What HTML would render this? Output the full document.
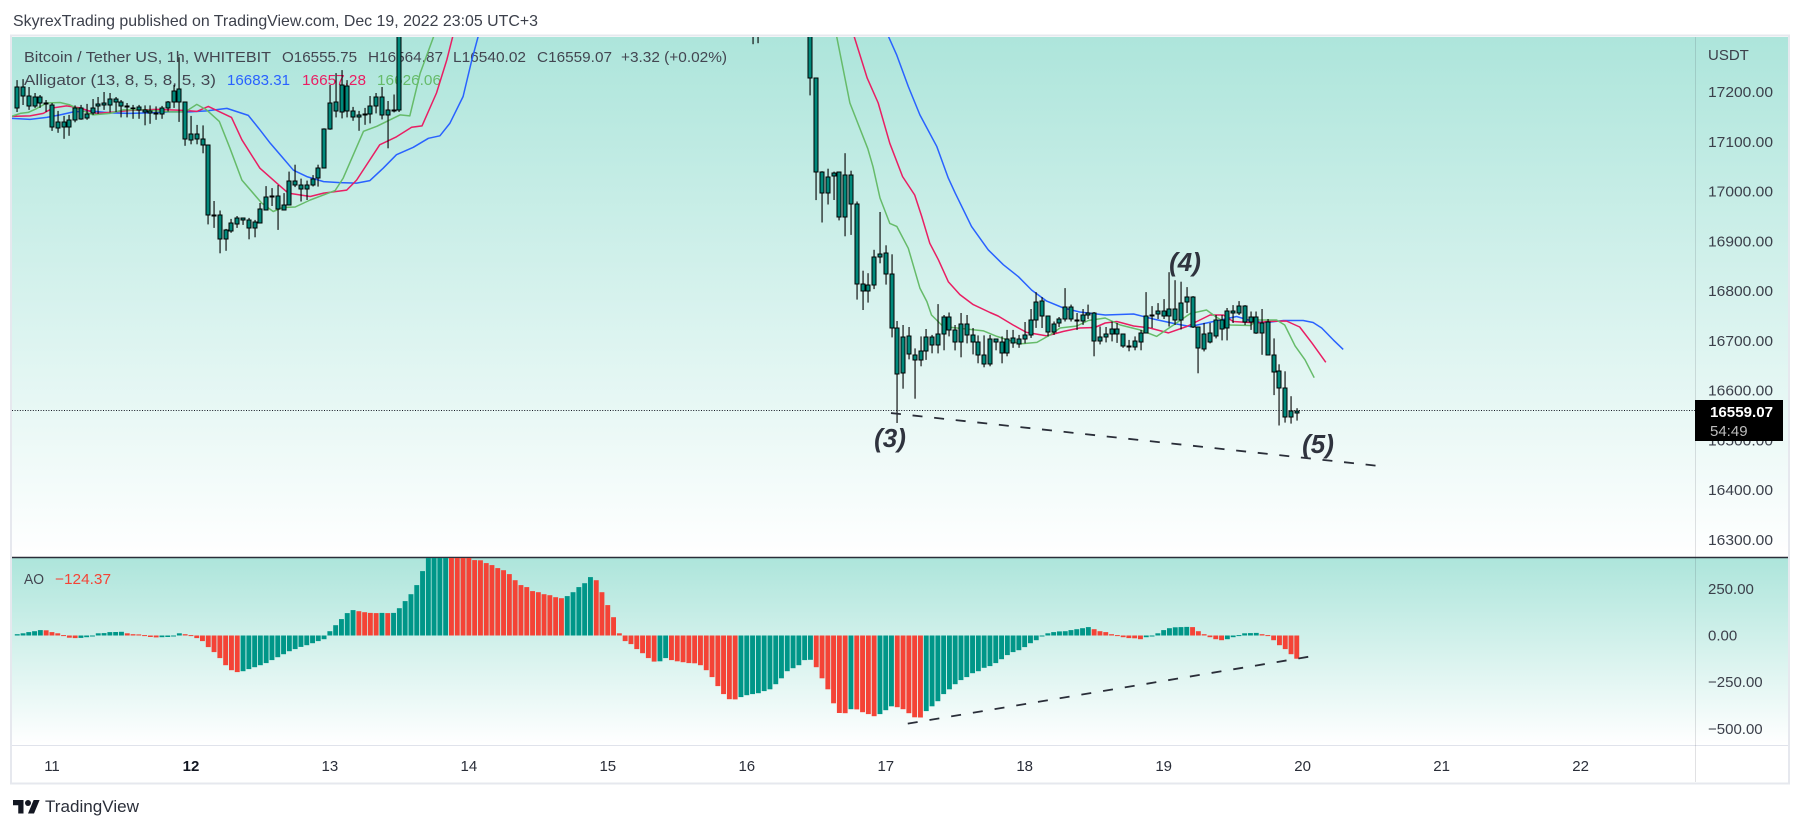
<!DOCTYPE html>
<html>
<head>
<meta charset="utf-8">
<title>BTC/USDT 1h chart</title>
<style>
html,body{margin:0;padding:0;background:#fff;width:1802px;height:830px;overflow:hidden}
svg{display:block;font-family:"Liberation Sans",sans-serif}
</style>
</head>
<body>
<svg id="chart" xmlns="http://www.w3.org/2000/svg" width="1802" height="830" viewBox="0 0 1802 830">
<defs>
<linearGradient id="paneGrad" x1="0" y1="0" x2="0" y2="1"><stop offset="0" stop-color="#ade5db"/><stop offset="1" stop-color="#ffffff"/></linearGradient>
<clipPath id="priceClip"><rect x="12" y="37" width="1683" height="520"/></clipPath>
<clipPath id="aoClip"><rect x="12" y="558" width="1683" height="187"/></clipPath>
</defs>
<text x="13" y="26" font-size="16" fill="#3c404b" textLength="525" lengthAdjust="spacingAndGlyphs">SkyrexTrading published on TradingView.com, Dec 19, 2022 23:05 UTC+3</text>
<rect x="11" y="35.5" width="1778" height="748" fill="#fff" stroke="#e6e8ee" stroke-width="2"/>
<rect x="12" y="37" width="1776" height="520" fill="url(#paneGrad)"/>
<rect x="12" y="558" width="1776" height="187" fill="url(#paneGrad)"/>
<line x1="12" y1="557.5" x2="1788" y2="557.5" stroke="#2a2e39" stroke-width="1.5"/>
<line x1="12" y1="745.5" x2="1788" y2="745.5" stroke="#e0e3eb" stroke-width="1"/>
<line x1="1695.5" y1="37" x2="1695.5" y2="782" stroke="#2a2e39" stroke-opacity="0.14" stroke-width="1"/>
<g id="legend" font-size="15" fill="#434651">
<text x="24" y="62" textLength="247" lengthAdjust="spacingAndGlyphs">Bitcoin / Tether US, 1h, WHITEBIT</text>
<text x="282" y="62" textLength="75" lengthAdjust="spacingAndGlyphs">O16555.75</text>
<text x="368" y="62" textLength="75" lengthAdjust="spacingAndGlyphs">H16564.87</text>
<text x="453" y="62" textLength="73" lengthAdjust="spacingAndGlyphs">L16540.02</text>
<text x="537" y="62" textLength="75" lengthAdjust="spacingAndGlyphs">C16559.07</text>
<text x="621" y="62" textLength="106" lengthAdjust="spacingAndGlyphs">+3.32 (+0.02%)</text>
<text x="24" y="85" textLength="192" lengthAdjust="spacingAndGlyphs">Alligator (13, 8, 5, 8, 5, 3)</text>
<text x="227" y="85" fill="#2962ff" textLength="63" lengthAdjust="spacingAndGlyphs">16683.31</text>
<text x="302" y="85" fill="#e91e63" textLength="64" lengthAdjust="spacingAndGlyphs">16657.28</text>
<text x="377" y="85" fill="#66bb6a" textLength="64" lengthAdjust="spacingAndGlyphs">16626.06</text>
<text x="24" y="584" textLength="20" lengthAdjust="spacingAndGlyphs">AO</text>
<text x="55" y="584" fill="#f44336" textLength="56" lengthAdjust="spacingAndGlyphs">−124.37</text>
</g>
<g id="priceMarks" clip-path="url(#priceClip)"></g>
<g id="aoMarks" clip-path="url(#aoClip)"></g>
<g id="axisLabels" font-size="15" fill="#3c404b"></g>
<g font-size="26" font-weight="bold" font-style="italic" fill="#2f333e" text-anchor="middle">
<text x="890" y="447">(3)</text>
<text x="1185" y="271">(4)</text>
<text x="1318" y="453">(5)</text>
</g>
<g>
<g transform="translate(13,797) scale(0.75)" fill="#131722">
<path d="M14 22H7V11H0V4h14v18zM28 22h-8l7.5-18h8L28 22z"/>
<circle cx="20" cy="8" r="4"/>
</g>
<text x="45" y="812" font-size="16.5" fill="#2a2e39" textLength="94" lengthAdjust="spacingAndGlyphs">TradingView</text>
</g>
</svg>
<script>
var firstHour = -6;
var opens = [
17168,17211,17191,17171,17189,17177,17173,17127,17139,17129,
17143,17168,17147,17157,17171,17174,17174,17186,17180,17171,
17168,17170,17163,17161,17157,17155,17168,17180,17206,17180,
17103,17115,17105,17093,16953,16953,16904,16921,16935,16947,
16942,16926,16937,16963,16989,16991,16963,16973,17021,17013,
17005,17013,17027,17047,17125,17161,17159,17212,17161,17153,
17153,17155,17171,17189,17153,17161,17164,17480,17560,17640,
17690,17720,17760,17790,17820,17850,17880,17860,17890,17920,
17950,17980,18010,18040,18060,18020,17990,17960,17930,17900,
17880,17860,17840,17820,17800,17780,17770,17790,17810,17830,
17850,17820,17790,17760,17730,17700,17680,17660,17640,17620,
17600,17590,17580,17560,17540,17520,17510,17500,17480,17470,
17450,17440,17420,17410,17400,17390,17380,17370,17360,17370,
17410,17430,17440,17450,17470,17490,17520,17560,17228,17040,
16997,17032,17039,16949,17033,16975,16814,16800,16812,16868,
16876,16834,16726,16635,16709,16671,16661,16679,16707,16691,
16714,16748,16722,16698,16734,16712,16698,16671,16653,16704,
16698,16676,16706,16694,16704,16712,16742,16780,16750,16718,
16736,16744,16768,16742,16740,16752,16756,16700,16707,16714,
16724,16714,16690,16688,16698,16716,16750,16754,16760,16750,
16764,16742,16778,16788,16728,16683,16698,16710,16742,16726,
16760,16756,16770,16738,16748,16716,16738,16671,16639,16605,
16547,16555.75];
var highs = [
17224,17226,17210,17198,17194,17184,17178,17162,17152,17154,
17173,17174,17176,17186,17190,17200,17198,17190,17184,17178,
17174,17174,17173,17173,17171,17172,17182,17214,17270,17181,
17152,17134,17133,17094,16981,16962,16925,16945,16951,16947,
16947,16943,16977,17011,17007,17013,16997,17040,17054,17026,
17022,17033,17054,17127,17214,17238,17244,17224,17170,17162,
17168,17192,17198,17210,17182,17195,17500,17590,17670,17720,
17750,17790,17820,17850,17880,17910,17910,17920,17950,17980,
18010,18040,18070,18090,18090,18050,18020,17990,17960,17930,
17910,17890,17870,17850,17830,17810,17820,17840,17860,17880,
17880,17850,17820,17790,17760,17730,17710,17690,17670,17650,
17630,17620,17610,17590,17570,17550,17540,17530,17510,17500,
17480,17470,17450,17440,17430,17420,17410,17385,17390,17440,
17460,17470,17480,17500,17520,17550,17590,17580,17228,17041,
17046,17040,17040,17077,17042,16980,16841,16836,16883,16959,
16892,16874,16740,16732,16728,16685,16709,16724,16712,16774,
16752,16757,16732,16756,16752,16726,16711,16711,16712,16704,
16709,16722,16722,16712,16738,16764,16798,16788,16750,16739,
16748,16806,16773,16756,16764,16773,16758,16729,16728,16739,
16736,16714,16702,16709,16722,16798,16770,16776,16784,16838,
16822,16819,16808,16790,16729,16736,16736,16752,16752,16766,
16772,16780,16772,16759,16759,16764,16744,16705,16653,16639,
16589,16564.87];
var lows = [
17160,17174,17164,17168,17168,17160,17122,17118,17106,17112,
17139,17144,17144,17154,17156,17164,17159,17160,17149,17149,
17146,17146,17133,17136,17144,17146,17161,17168,17140,17092,
17095,17095,17077,16934,16927,16876,16881,16917,16927,16933,
16904,16908,16937,16962,16971,16923,16963,16973,17009,16980,
16983,17010,17010,17047,17124,17149,17147,17149,17142,17122,
17134,17137,17157,17145,17087,17159,17160,17450,17530,17610,
17660,17690,17730,17760,17790,17820,17830,17830,17860,17890,
17920,17950,17980,18010,17990,17960,17930,17900,17870,17850,
17830,17810,17790,17770,17750,17740,17740,17760,17780,17800,
17790,17760,17730,17700,17670,17650,17630,17610,17590,17570,
17560,17550,17530,17510,17490,17480,17470,17450,17440,17420,
17410,17390,17380,17370,17360,17350,17340,17296,17298,17340,
17380,17400,17410,17420,17440,17460,17490,17193,16983,16938,
16974,16983,16942,16910,16913,16783,16762,16777,16804,16856,
16813,16707,16535,16604,16663,16584,16649,16662,16675,16675,
16681,16709,16681,16667,16695,16673,16655,16647,16649,16681,
16655,16669,16686,16686,16695,16706,16726,16726,16709,16712,
16728,16739,16739,16722,16732,16744,16669,16693,16697,16699,
16696,16686,16679,16681,16681,16716,16726,16744,16744,16729,
16732,16723,16756,16726,16635,16679,16695,16705,16701,16701,
16736,16752,16732,16722,16714,16672,16671,16591,16530,16536,
16534,16540.02];
var closes = [
17211,17192,17171,17189,17178,17175,17129,17139,17129,17143,
17168,17145,17155,17168,17176,17178,17186,17179,17171,17170,
17167,17163,17159,17157,17156,17168,17180,17203,17180,17105,
17115,17105,17093,16953,16951,16904,16922,16937,16947,16943,
16926,16939,16965,16989,16991,16965,16972,17021,17013,17005,
17013,17025,17047,17125,17177,17180,17214,17161,17149,17149,
17155,17171,17189,17153,17164,17164,17480,17560,17640,17690,
17720,17760,17790,17820,17850,17880,17860,17890,17920,17950,
17980,18010,18040,18060,18020,17990,17960,17930,17900,17880,
17860,17840,17820,17800,17780,17770,17790,17810,17830,17850,
17820,17790,17760,17730,17700,17680,17660,17640,17620,17600,
17590,17580,17560,17540,17520,17510,17500,17480,17470,17450,
17440,17420,17410,17400,17390,17380,17370,17360,17370,17410,
17430,17440,17450,17470,17490,17520,17560,17228,17039,16997,
17029,17037,16949,17033,16975,16814,16800,16812,16868,16874,
16834,16726,16633,16707,16673,16661,16679,16707,16691,16713,
16748,16722,16698,16734,16712,16698,16671,16653,16704,16698,
16676,16704,16696,16704,16712,16742,16778,16750,16718,16734,
16744,16768,16744,16740,16752,16756,16700,16707,16714,16724,
16714,16690,16688,16700,16716,16750,16752,16760,16750,16764,
16742,16776,16788,16728,16685,16714,16716,16742,16724,16760,
16756,16770,16738,16748,16716,16736,16671,16637,16605,16547,
16559,16559.07];
var jawHours = [-7,-3.8,-0.9,1.4,3.7,6.6,10,13.5,16.9,20.4,23.8,26.7,30.2,33.9,35.9,37.7,39.7,41.7,44,46.9,49.7,52.6,54.9,57.2,59.5,62.4,65,67,68.7,71,72.5,73.6,90,125,144.4,145.9,147.9,149.9,152.8,154.8,156,158.8,161.7,164.3,166.9,169.2,171.8,174.7,177.5,181.9,186.8,190.2,194.2,196.6,200.6,204.6,207.5,209.8,212.7,216.1,217.8,219.3,221.3,223];
var jawValues = [17147,17145,17149,17154,17160,17162,17158,17157,17158,17160,17160,17162,17167,17153,17124,17097,17070,17043,17030,17020,17018,17017,17022,17047,17074,17089,17107,17112,17137,17191,17264,17311,17750,17800,17313,17274,17211,17154,17091,17027,16997,16930,16883,16853,16829,16802,16780,16766,16758,16752,16754,16744,16734,16729,16739,16749,16739,16737,16741,16741,16737,16726,16702,16683];
var teethHours = [-7,-3.8,-1.5,0.2,2.5,4.8,7.7,10,13.5,18.1,22.7,25,27,31,32.8,35.9,39.4,40.8,44.6,46.9,50.9,52.6,56.6,59.5,62.1,63.9,66.4,68.2,69.2,90,120,138.5,140.8,142.7,144.7,146.9,149,150.2,151.6,153.1,154.8,156.8,159.1,162,163.4,166,168.3,171.8,174.7,177.5,180.1,181.9,183.9,186.8,189.6,192.8,196,200,202.3,204,208.1,209.8,213.2,215.5,217.6,220];
var teethValues = [17151,17152,17157,17168,17172,17168,17157,17159,17163,17165,17163,17161,17171,17149,17104,17047,17011,16997,16990,16997,17003,17023,17094,17110,17129,17132,17198,17265,17311,17850,17800,17313,17228,17178,17097,17030,16993,16950,16896,16863,16819,16793,16773,16757,16750,16732,16717,16710,16719,16726,16727,16736,16739,16730,16726,16716,16729,16752,16752,16739,16736,16739,16740,16728,16696,16657];
var lipsHours = [-7,-5.5,-4.1,-2.6,-0.9,1.4,3.1,4.8,7.1,10,12.3,15.8,20.4,23,25,26.7,28.9,30.7,32.8,36.2,38.2,39.9,42,44.6,48.9,50.3,53.8,56.1,60.1,61.8,63.6,65.9,85,115,135.5,137.8,140.9,141.8,143,144.7,145.9,147.9,149.9,151.1,151.9,153.9,160.9,163.2,167.2,170.1,172.4,174.1,177,179,181.9,184.5,187.9,190.8,193.7,196.6,199.4,201.2,203.5,207,208.1,211.5,212.9,214.7,216.4,218];
var lipsValues = [17151,17157,17159,17167,17178,17179,17174,17165,17154,17157,17164,17164,17160,17160,17175,17164,17141,17088,17023,16977,16960,16968,16969,16983,17002,17027,17121,17131,17154,17152,17238,17311,18000,17800,17313,17178,17086,17050,16987,16936,16930,16886,16806,16779,16752,16729,16720,16709,16694,16697,16712,16726,16730,16741,16746,16732,16722,16709,16732,16755,16762,16747,16732,16731,16742,16742,16732,16690,16662,16626];
var aoValues = [
7,12,18,23,29,28,18,12,2,-12,
-14,-13,-9,-3,12,13,18,19,20,12,
7,6,2,-8,-10,-9,-8,-3,12,7,
2,-14,-30,-62,-89,-121,-159,-186,-196,-191,
-180,-170,-159,-148,-132,-116,-100,-84,-73,-61,
-52,-41,-30,-20,23,55,88,120,136,130,
125,121,120,121,120,121,146,184,221,270,
345,450,470,490,510,500,480,460,430,404,
403,388,377,361,350,329,296,270,259,238,
232,221,216,205,200,211,232,259,280,313,
296,232,163,98,12,-30,-46,-73,-95,-121,
-140,-138,-121,-132,-138,-143,-148,-149,-159,-186,
-223,-271,-314,-341,-342,-330,-320,-314,-309,-298,
-288,-261,-229,-191,-175,-159,-132,-130,-170,-229,
-288,-363,-415,-416,-395,-396,-411,-421,-432,-421,
-400,-379,-384,-395,-416,-438,-439,-405,-379,-352,
-314,-288,-261,-239,-223,-202,-191,-173,-164,-148,
-127,-105,-89,-79,-62,-41,-25,-4,12,18,
22,23,29,34,39,45,34,23,18,7,
2,-9,-14,-15,-20,-9,-4,12,29,39,
44,45,46,45,23,7,-9,-20,-25,-20,
-9,2,12,13,14,7,2,-25,-52,-73,
-100,-124.37];
var priceTicks = [17200,17100,17000,16900,16800,16700,16600,16500,16400,16300];
var aoTicks = [250,0,-250,-500];
var dayTicks = [11,12,13,14,15,16,17,18,19,20,21,22];
var boldDay = 12;
var lastPrice = 16559.07;
var countdown = '54:49';
var priceTrendHours = [144.9,229.8];
var priceTrendValues = [16555,16448];
var aoTrendHours = [147.8,217];
var aoTrendValues = [-472,-114];

var NS = 'http://www.w3.org/2000/svg';
function xAt(h){ return 52 + 5.79 * h; }
function yPrice(p){ return 92 + (17200 - p) * 0.4978; }
function yAo(a){ return 635.5 - a * 0.1867; }
function make(tag, attrs, parent){
  var el = document.createElementNS(NS, tag);
  for (var k in attrs) el.setAttribute(k, attrs[k]);
  parent.appendChild(el);
  return el;
}
function tf(v){ return v.toFixed(2).replace('-', '\u2212'); }

var priceG = document.getElementById('priceMarks');
var aoG = document.getElementById('aoMarks');
var axisG = document.getElementById('axisLabels');

var cur = make('line', {x1:12, y1:Math.round(yPrice(lastPrice))-0.5, x2:1695, y2:Math.round(yPrice(lastPrice))-0.5, stroke:'#131722', 'stroke-width':1, 'stroke-dasharray':'1 1.6'}, priceG);



function drawLine(hours, values, color, name){
  var pts = [];
  for (var i = 0; i < hours.length; i++) pts.push(xAt(hours[i]).toFixed(1) + ',' + yPrice(values[i]).toFixed(1));
  var el = make('polyline', {points:pts.join(' '), fill:'none', stroke:color, 'stroke-width':1.5, 'stroke-linejoin':'round'}, priceG);
  
  
}
drawLine(jawHours, jawValues, '#2962ff', 'alligator-jaw-line');
drawLine(teethHours, teethValues, '#e91e63', 'alligator-teeth-line');
drawLine(lipsHours, lipsValues, '#66bb6a', 'alligator-lips-line');

for (var i = 0; i < opens.length; i++) {
  var cx = Math.round(xAt(firstHour + i));
  var g = make('g', {}, priceG);
  
  
  make('rect', {x:cx - 0.5, y:yPrice(highs[i]).toFixed(1), width:1.1, height:(yPrice(lows[i]) - yPrice(highs[i])).toFixed(1), fill:'#000'}, g);
  var bodyTop = Math.round(yPrice(Math.max(opens[i], closes[i])));
  var bodyBottom = Math.round(yPrice(Math.min(opens[i], closes[i])));
  make('rect', {x:cx - 2, y:bodyTop, width:4, height:Math.max(bodyBottom - bodyTop, 0.6), fill:'#00897b', stroke:'#000', 'stroke-width':1}, g);
}

var priceTrend = make('line', {x1:xAt(priceTrendHours[0]), y1:yPrice(priceTrendValues[0]), x2:xAt(priceTrendHours[1]), y2:yPrice(priceTrendValues[1]), stroke:'#2a2e39', 'stroke-width':1.8, 'stroke-dasharray':'10 11.7'}, priceG);



for (var j = 0; j < aoValues.length; j++) {
  var v = aoValues[j];
  var rising = j === 0 || v > aoValues[j - 1];
  var y0 = yAo(0), y1 = yAo(v);
  var bar = make('rect', {x:(xAt(firstHour + j) - 2.5).toFixed(1), y:Math.min(y0, y1).toFixed(1), width:4.9, height:Math.max(Math.abs(y1 - y0), 1).toFixed(1), fill:rising ? '#009688' : '#f44336'}, aoG);
  
  
}

var aoTrend = make('line', {x1:xAt(aoTrendHours[0]), y1:yAo(aoTrendValues[0]), x2:xAt(aoTrendHours[1]), y2:yAo(aoTrendValues[1]), stroke:'#2a2e39', 'stroke-width':1.8, 'stroke-dasharray':'10 12'}, aoG);



var usdt = make('text', {x:1708, y:60}, axisG);
usdt.textContent = 'USDT';



priceTicks.forEach(function(p){
  var t = make('text', {x:1708, y:(yPrice(p) + 5).toFixed(1), textLength:65, lengthAdjust:'spacingAndGlyphs'}, axisG);
  t.textContent = tf(p);
  
  
});
aoTicks.forEach(function(a){
  var t = make('text', {x:1708, y:(yAo(a) + 5).toFixed(1)}, axisG);
  t.textContent = tf(a);
  
  
});
dayTicks.forEach(function(d){
  var isBold = d === boldDay;
  var t = make('text', {x:xAt((d - 11) * 24).toFixed(1), y:771, 'text-anchor':'middle', fill:isBold ? '#131722' : '#2a2e39', 'font-weight':isBold ? 'bold' : 'normal'}, axisG);
  t.textContent = String(d);
  
  
});

var tag = make('rect', {x:1695, y:400, width:88, height:41, fill:'#000'}, axisG);


var tagPrice = make('text', {x:1710, y:417, fill:'#fff', 'font-weight':'bold', textLength:63, lengthAdjust:'spacingAndGlyphs'}, axisG);
tagPrice.textContent = lastPrice.toFixed(2);


var tagTime = make('text', {x:1710, y:436, fill:'#bdbdbd'}, axisG);
tagTime.textContent = countdown;


</script>
</body>
</html>
